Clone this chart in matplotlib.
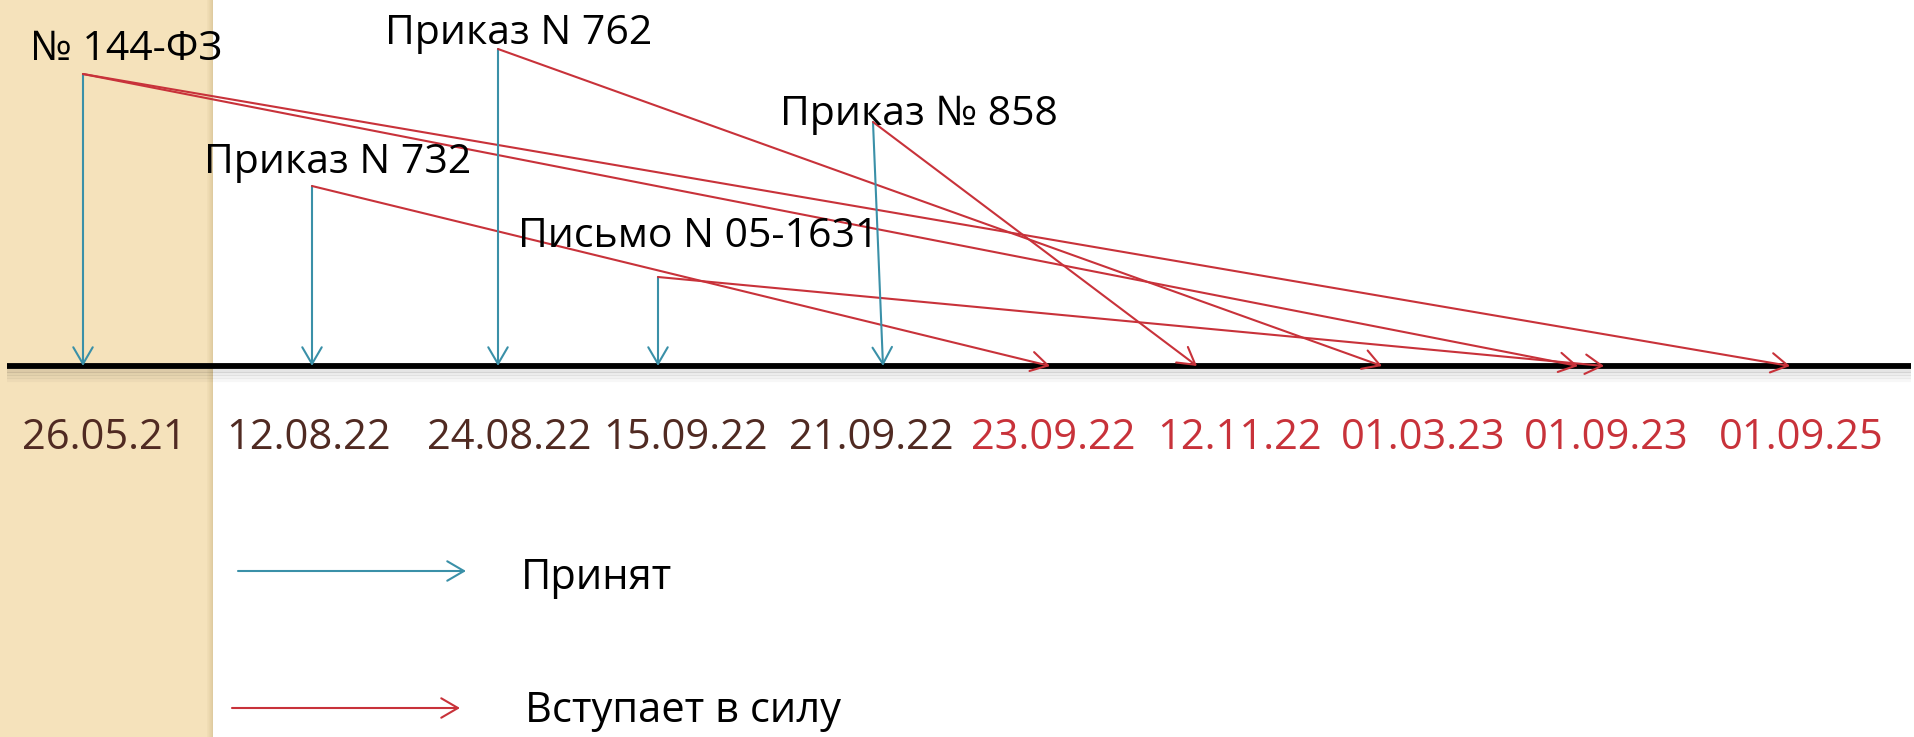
import matplotlib
matplotlib.use("Agg")
import matplotlib.pyplot as plt
from matplotlib.patches import Rectangle, FancyArrowPatch

# ---------------- data ----------------
dates = ["26.05.21", "12.08.22", "24.08.22", "15.09.22", "21.09.22",
         "23.09.22", "12.11.22", "01.03.23", "01.09.23", "01.09.25"]
date_kind = ["adopted"] * 5 + ["effective"] * 5

docs = ["№ 144-ФЗ", "Приказ N 732", "Приказ N 762", "Письмо N 05-1631", "Приказ № 858"]
adopted = ["26.05.21", "12.08.22", "24.08.22", "15.09.22", "21.09.22"]
effective = [["01.09.23", "01.09.25"], ["23.09.22"], ["01.03.23"], ["01.09.23"], ["12.11.22"]]

legend_labels = ["Принят", "Вступает в силу"]

# ---------------- layout (pixel units) ----------------
W, H = 1915, 737
line_y = 366
date_label_x = [104, 309, 509, 686, 871, 1053, 1240, 1423, 1606, 1801]
date_label_y = 438
doc_anchor = [(83, 74), (312, 186), (498, 49), (658, 277), (873, 122)]
doc_label_pos = [(30, 50), (204, 163), (385, 34), (518, 237), (780, 115)]
adopt_tip_x = [83, 312, 498, 658, 883]
effect_tip_x = [[1578, 1790], [1050], [1382], [1604], [1197]]

BLUE = "#3a90a8"
RED = "#c8323a"
BROWN = "#502a22"
TAN = "#f5e2bb"

plt.rcParams['font.family'] = ['Open Sans', 'DejaVu Sans']

fig = plt.figure(figsize=(W / 100, H / 100), dpi=100)
ax = fig.add_axes([0, 0, 1, 1])
ax.set_xlim(0, W)
ax.set_ylim(H, 0)
ax.axis("off")

# tan strip with shadow edge
ax.add_patch(Rectangle((0, 0), 213, H, facecolor=TAN, edgecolor="none", zorder=0))
for i, a in enumerate([0.05, 0.08, 0.12, 0.16, 0.2, 0.25]):
    ax.add_patch(Rectangle((207 + i, 0), 1, H, facecolor="#a08850", alpha=a,
                           edgecolor="none", zorder=0))

# timeline with soft shadow
for k, a in enumerate([0.10, 0.07, 0.05, 0.03]):
    ax.plot([7, 1911], [line_y + 5 + 3 * k, line_y + 5 + 3 * k], color="black",
            lw=3, alpha=a, solid_capstyle="butt", zorder=1)
ax.plot([7, 1911], [line_y, line_y], color="black", lw=4.2, solid_capstyle="butt", zorder=2)


def arrow(p0, p1, color):
    ax.add_patch(FancyArrowPatch(p0, p1, arrowstyle="->,head_length=0.6,head_width=0.35",
                                 mutation_scale=20, color=color, lw=1.5,
                                 shrinkA=0, shrinkB=0, zorder=3))


# date labels
for x, d, k in zip(date_label_x, dates, date_kind):
    ax.text(x, date_label_y, d, ha="center", va="center", fontsize=30,
            color=BROWN if k == "adopted" else RED, zorder=4)

# documents
for i, name in enumerate(docs):
    lx, ly = doc_label_pos[i]
    ax.text(lx, ly, name, ha="left", va="center", fontsize=29.5, color="black", zorder=4)
    ax_, ay_ = doc_anchor[i]
    arrow((ax_, ay_), (adopt_tip_x[i], line_y), BLUE)
    for tx in effect_tip_x[i]:
        arrow((ax_, ay_), (tx, line_y), RED)

# legend
arrow((238, 571), (466, 571), BLUE)
ax.text(521, 578, legend_labels[0], ha="left", va="center", fontsize=30, color="black")
arrow((232, 708), (460, 708), RED)
ax.text(525, 711, legend_labels[1], ha="left", va="center", fontsize=30, color="black")

fig.savefig("out.png", dpi=100)
